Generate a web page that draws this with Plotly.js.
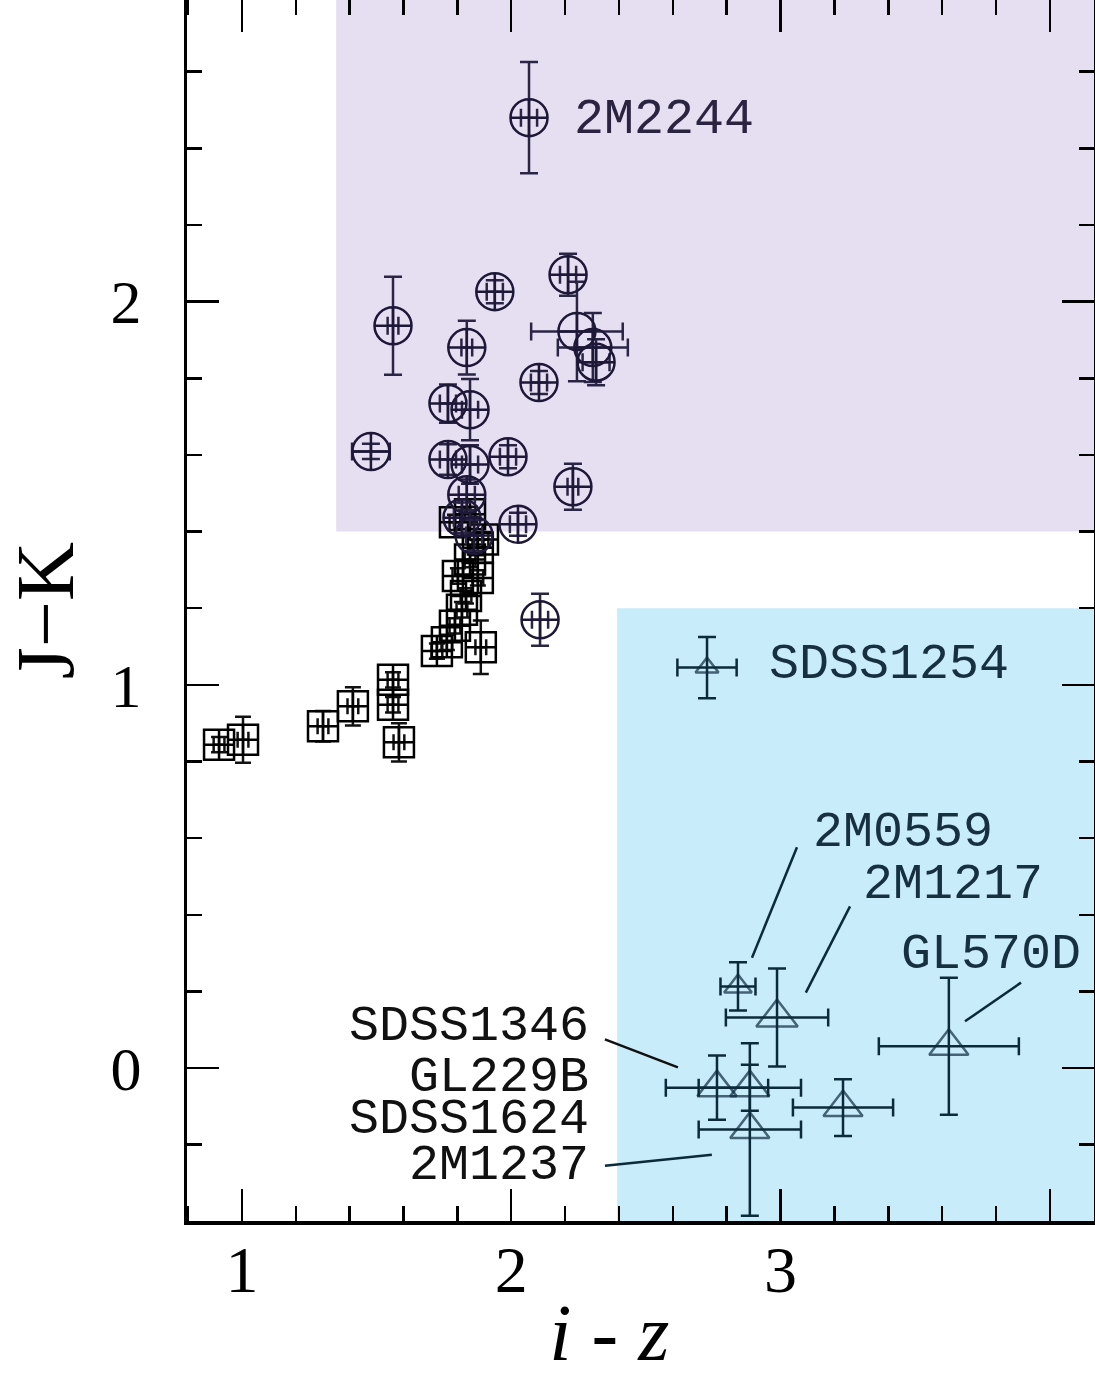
<!DOCTYPE html>
<html>
<head>
<meta charset="utf-8">
<script src="https://cdn.plot.ly/plotly-3.0.1.min.js"></script>
<style>
  html, body { margin: 0; padding: 0; background: #ffffff; }
  #chart { width: 1095px; height: 1391px; }
</style>
</head>
<body>
<div id="chart"></div>
<script>
// ---- Data (i - z, J - K) ----
// L dwarfs (circles)
const lIZ    = [2.066, 1.561, 1.939, 2.211, 2.244, 2.303, 2.315, 2.103, 1.835, 1.765, 1.847, 1.765, 1.847, 1.988, 1.479, 2.229, 2.025, 1.835, 1.817, 1.862, 2.107];
const lJK    = [2.480, 1.937, 2.026, 2.070, 1.922, 1.880, 1.842, 1.789, 1.880, 1.734, 1.718, 1.588, 1.575, 1.595, 1.609, 1.517, 1.419, 1.496, 1.436, 1.390, 1.170];
const lIZerr = [0.03, 0.02, 0.03, 0.03, 0.17, 0.13, 0.05, 0.03, 0.02, 0.03, 0.03, 0.03, 0.03, 0.03, 0.07, 0.02, 0.03, 0.03, 0.03, 0.03, 0.03];
const lJKerr = [0.145, 0.128, 0.03, 0.055, 0.13, 0.09, 0.06, 0.03, 0.07, 0.05, 0.08, 0.04, 0.05, 0.03, 0.02, 0.06, 0.03, 0.04, 0.04, 0.04, 0.068];

// Late M / early L dwarfs (squares)
const mIZ    = [0.915, 1.004, 1.301, 1.412, 1.561, 1.561, 1.583, 1.724, 1.761, 1.887, 1.791, 1.817, 1.802, 1.876, 1.832, 1.847, 1.876, 1.895, 1.791, 1.847];
const mJK    = [0.844, 0.857, 0.892, 0.944, 1.013, 0.948, 0.850, 1.088, 1.111, 1.098, 1.154, 1.196, 1.284, 1.279, 1.232, 1.327, 1.358, 1.379, 1.424, 1.445];
const mIZerr = [0.02, 0.02, 0.02, 0.02, 0.02, 0.02, 0.02, 0.02, 0.02, 0.02, 0.02, 0.02, 0.02, 0.02, 0.02, 0.02, 0.02, 0.02, 0.02, 0.02];
const mJKerr = [0.02, 0.06, 0.04, 0.05, 0.02, 0.02, 0.05, 0.02, 0.02, 0.07, 0.02, 0.02, 0.02, 0.02, 0.02, 0.02, 0.02, 0.02, 0.02, 0.02];

// T dwarfs (triangles)
const tNames = ["SDSS1254", "2M0559", "2M1217", "GL570D", "SDSS1346", "GL229B", "2M1237", "SDSS1624"];
const tIZ    = [2.727, 2.842, 2.987, 3.625, 2.764, 2.886, 2.886, 3.232];
const tJK    = [1.045, 0.213, 0.132, 0.057, -0.051, -0.051, -0.160, -0.103];
const tIZerr = [0.11, 0.065, 0.19, 0.26, 0.19, 0.19, 0.19, 0.186];
const tJKerr = [0.08, 0.063, 0.128, 0.179, 0.084, 0.06, 0.225, 0.074];

// Axis ranges and tick labels
const xRange = [0.796, 4.164];
const yRange = [-0.399, 2.787];
const xTickVals = [1, 2, 3, 4];
const xTickText = ["1", "2", "3", ""];
const yTickVals = [0, 1, 2];
const yTickText = ["0", "1", "2"];

// Shaded selection regions (i-z from, J-K from/to)
const lBox = {x0: 1.35, x1: 4.164, y0: 1.40, y1: 2.787};
const tBox = {x0: 2.393, x1: 4.164, y0: -0.399, y1: 1.20};

// ---- Labels (layout decoration) ----
const labelFont = "Liberation Mono, DejaVu Sans Mono, monospace";
const labels = [
  {text: "2M2244",   x: 2.229, y: 2.475, xanchor: "left",  color: "#2a2440", h: null},
  {text: "SDSS1254", x: 2.953, y: 1.053, xanchor: "left",  color: "#16303f", h: null},
  {text: "2M0559",   x: 3.117, y: 0.615, xanchor: "left",  color: "#16303f", h: null},
  {text: "2M1217",   x: 3.302, y: 0.479, xanchor: "left",  color: "#16303f", h: null},
  {text: "GL570D",   x: 3.443, y: 0.297, xanchor: "left",  color: "#16303f", h: null},
  {text: "SDSS1346", x: 2.292, y: 0.109, xanchor: "right", color: "#111111", h: 42},
  {text: "GL229B",   x: 2.292, y: -0.022, xanchor: "right", color: "#111111", h: 42},
  {text: "SDSS1624", x: 2.292, y: -0.134, xanchor: "right", color: "#111111", h: 42},
  {text: "2M1237",   x: 2.292, y: -0.252, xanchor: "right", color: "#111111", h: 42}
];
const leaders = [
  [2.348, 0.075, 2.619, 0.002, "#111111"],
  [2.348, -0.255, 2.745, -0.226, "#0b2a3a"],
  [3.061, 0.576, 2.894, 0.288, "#0b2a3a"],
  [3.258, 0.422, 3.094, 0.197, "#0b2a3a"],
  [3.893, 0.223, 3.685, 0.122, "#0b2a3a"]
];

const traces = [
  {
    type: "scatter", mode: "markers", name: "M/L",
    x: mIZ, y: mJK,
    error_x: {type: "data", array: mIZerr, color: "#111111", thickness: 2.5, width: 8},
    error_y: {type: "data", array: mJKerr, color: "#111111", thickness: 2.5, width: 8},
    marker: {symbol: "square-cross-open", size: 30, color: "#000000", line: {width: 2.5, color: "#000000"}}
  },
  {
    type: "scatter", mode: "markers", name: "L",
    x: lIZ, y: lJK,
    error_x: {type: "data", array: lIZerr, color: "#2b2545", thickness: 2.5, width: 9},
    error_y: {type: "data", array: lJKerr, color: "#2b2545", thickness: 2.5, width: 9},
    marker: {symbol: "circle-cross-open", size: 37, color: "#1e1838", line: {width: 2.5, color: "#1e1838"}}
  },
  {
    type: "scatter", mode: "markers", name: "T", text: tNames,
    x: tIZ, y: tJK,
    error_x: {type: "data", array: tIZerr, color: "#0b2a3a", thickness: 2.5, width: 9},
    error_y: {type: "data", array: tJKerr, color: "#0b2a3a", thickness: 2.5, width: 9},
    marker: {symbol: "triangle-up-open", size: [20, 24, 36, 34, 34, 34, 34, 34], color: "#0b2a3a", line: {width: 2.5, color: "#0b2a3a"}}
  }
];

const shapes = [
  {type: "rect", xref: "x", yref: "y", x0: lBox.x0, x1: lBox.x1, y0: lBox.y0, y1: lBox.y1,
   fillcolor: "#e6dff2", line: {width: 0}, layer: "below"},
  {type: "rect", xref: "x", yref: "y", x0: tBox.x0, x1: tBox.x1, y0: tBox.y0, y1: tBox.y1,
   fillcolor: "#c9ecfb", line: {width: 0}, layer: "below"}
].concat(leaders.map(l => ({
  type: "line", xref: "x", yref: "y", x0: l[0], y0: l[1], x1: l[2], y1: l[3],
  line: {color: l[4], width: 2.5}
})));

const annotations = labels.map(l => {
  const a = {
    text: l.text, x: l.x, y: l.y, xref: "x", yref: "y", showarrow: false,
    xanchor: l.xanchor, yanchor: "middle", borderpad: 0,
    font: {family: labelFont, size: 50, color: l.color}
  };
  if (l.h) { a.height = l.h; a.valign = "middle"; }
  return a;
});

const serif = "Liberation Serif, Times New Roman, serif";

const layout = {
  width: 1095, height: 1391,
  margin: {l: 187, r: 1, t: 0, b: 170},
  paper_bgcolor: "#ffffff", plot_bgcolor: "#ffffff",
  showlegend: false,
  xaxis: {
    range: xRange, showgrid: false, zeroline: false,
    showline: true, linecolor: "#000000", linewidth: 4, mirror: "allticks",
    ticks: "inside", ticklen: 32, tickwidth: 2.5, tickcolor: "#000000",
    tickvals: xTickVals, ticktext: xTickText,
    tickfont: {family: serif, size: 66, color: "#000000"},
    ticklabelstandoff: -12,
    minor: {dtick: 0.2, ticks: "inside", ticklen: 15, tickwidth: 2.5, tickcolor: "#000000", showgrid: false},
    title: {text: "<i>i</i> - <i>z</i><span style=\"color:rgba(0,0,0,0)\"><i>zz</i></span>", font: {family: serif, size: 80, color: "#000000"}, standoff: 0}
  },
  yaxis: {
    range: yRange, showgrid: false, zeroline: false,
    showline: true, linecolor: "#000000", linewidth: 3, mirror: "allticks",
    ticks: "inside", ticklen: 32, tickwidth: 2.5, tickcolor: "#000000",
    tickvals: yTickVals, ticktext: yTickText,
    tickfont: {family: serif, size: 62, color: "#000000"},
    ticklabelstandoff: 30,
    minor: {dtick: 0.2, ticks: "inside", ticklen: 15, tickwidth: 2.5, tickcolor: "#000000", showgrid: false},
    title: {text: "J\u2212K", font: {family: serif, size: 82, color: "#000000"}, standoff: 24}
  },
  shapes: shapes,
  annotations: annotations
};

Plotly.newPlot("chart", traces, layout, {displayModeBar: false, staticPlot: true});
</script>
</body>
</html>
